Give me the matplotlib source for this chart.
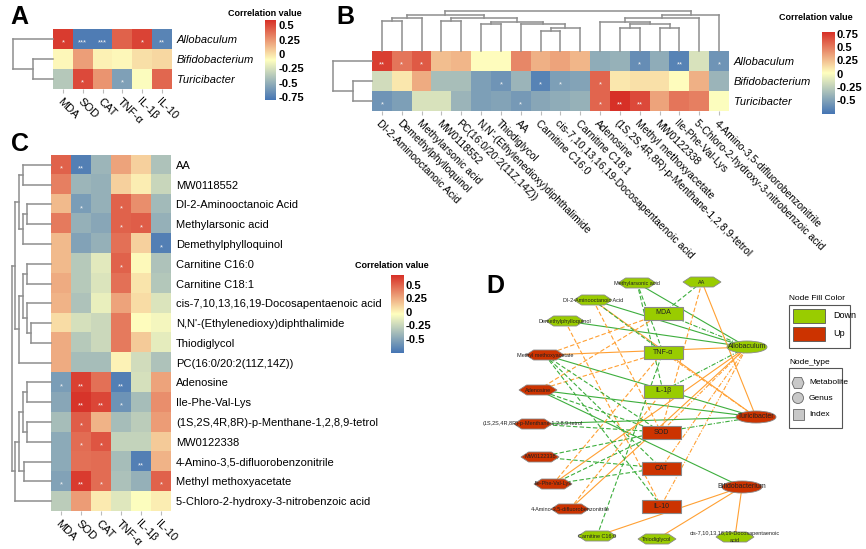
import numpy as np
import matplotlib
matplotlib.use('Agg')
import matplotlib.pyplot as plt
from matplotlib.colors import LinearSegmentedColormap
from matplotlib.patches import Polygon, Rectangle, Ellipse

plt.rcParams['font.family'] = ['Liberation Sans', 'DejaVu Sans']

# ---- data -------------------------------------------------------------
genera = ['Allobaculum', 'Bifidobacterium', 'Turicibacter']
indices = ['MDA', 'SOD', 'CAT', 'TNF-α', 'IL-1β', 'IL-10']

# panel A: genus x index
a_corr = [[0.55, -0.76, -0.76, 0.42, 0.52, -0.72],
          [-0.08, 0.22, -0.06, -0.08, 0.00, 0.03],
          [-0.38, 0.50, 0.25, -0.58, -0.12, 0.40]]
a_sig = [['*', '***', '***', '', '*', '**'],
         ['', '', '', '', '', ''],
         ['', '*', '', '*', '', '']]
a_ticks = [0.5, 0.25, 0, -0.25, -0.5, -0.75]

# panel B: genus x metabolite (column order of the clustered heatmap)
metab_b = ['Dl-2-Aminooctanoic Acid', 'Demethylphylloquinol', 'Methylarsonic acid', 'MW0118552',
           'PC(16:0/20:2(11Z,14Z))', "N,N'-(Ethylenedioxy)diphthalimide", 'Thiodiglycol', 'AA',
           'Carnitine C16:0', 'cis-7,10,13,16,19-Docosapentaenoic acid', 'Carnitine C18:1', 'Adenosine',
           '(1S,2S,4R,8R)-p-Menthane-1,2,8,9-tetrol', 'Methyl methoxyacetate', 'MW0122338',
           'Ile-Phe-Val-Lys', '5-Chloro-2-hydroxy-3-nitrobenzoic acid', '4-Amino-3,5-difluorobenzonitrile']
b_allobaculum = [0.72, 0.52, 0.62, 0.25, 0.28, 0.02, 0.02, 0.45, 0.30, 0.35, 0.28,
                 -0.45, -0.42, -0.62, -0.45, -0.68, -0.15, -0.58]
b_bifidobacterium = [-0.18, 0.10, 0.32, -0.35, -0.35, -0.52, -0.58, -0.40, -0.68, -0.52, -0.50,
                     0.58, 0.10, 0.12, 0.12, 0.02, 0.30, -0.40]
b_turicibacter = [-0.58, -0.52, -0.15, -0.15, -0.40, -0.52, -0.50, -0.55, -0.48, -0.45, -0.42,
                  0.58, 0.78, 0.68, 0.35, 0.52, 0.48, 0.00]
b_sig_allobaculum = ['**', '*', '*', '', '', '', '', '', '', '', '', '', '', '*', '', '**', '', '*']
b_sig_bifidobacterium = ['', '', '', '', '', '', '*', '', '*', '*', '', '*', '', '', '', '', '', '']
b_sig_turicibacter = ['*', '', '', '', '', '', '', '*', '', '', '', '*', '**', '**', '', '', '', '']
b_ticks = [0.75, 0.5, 0.25, 0, -0.25, -0.5]

# panel C: metabolite x index (row order of the clustered heatmap)
metab_c = ['AA', 'MW0118552', 'Dl-2-Aminooctanoic Acid', 'Methylarsonic acid', 'Demethylphylloquinol',
           'Carnitine C16:0', 'Carnitine C18:1', 'cis-7,10,13,16,19-Docosapentaenoic acid',
           "N,N'-(Ethylenedioxy)diphthalimide", 'Thiodiglycol', 'PC(16:0/20:2(11Z,14Z))', 'Adenosine',
           'Ile-Phe-Val-Lys', '(1S,2S,4R,8R)-p-Menthane-1,2,8,9-tetrol', 'MW0122338',
           '4-Amino-3,5-difluorobenzonitrile', 'Methyl methoxyacetate', '5-Chloro-2-hydroxy-3-nitrobenzoic acid']
c_corr = [[0.50, -0.70, -0.42, 0.28, 0.12, -0.35],
          [0.40, -0.42, -0.45, 0.12, 0.02, -0.25],
          [0.20, -0.55, -0.45, 0.50, 0.35, -0.40],
          [0.42, -0.45, -0.50, 0.50, 0.52, -0.45],
          [0.20, -0.52, -0.45, 0.45, 0.12, -0.70],
          [0.20, -0.32, -0.15, 0.50, -0.02, -0.35],
          [0.25, -0.32, -0.18, 0.45, 0.05, -0.33],
          [0.22, -0.35, -0.12, 0.28, 0.08, -0.18],
          [0.08, -0.20, -0.24, 0.42, -0.03, -0.08],
          [0.25, -0.32, -0.24, 0.42, 0.14, -0.14],
          [0.25, -0.38, -0.38, 0.00, -0.22, -0.35],
          [-0.55, 0.62, 0.45, -0.70, -0.20, 0.28],
          [-0.50, 0.66, 0.60, -0.60, -0.38, 0.35],
          [-0.38, 0.52, 0.22, -0.38, -0.30, 0.30],
          [-0.48, 0.47, 0.55, -0.27, -0.27, 0.14],
          [-0.48, 0.45, 0.47, -0.38, -0.70, 0.22],
          [-0.52, 0.64, 0.47, -0.36, -0.45, 0.50],
          [-0.30, 0.30, 0.03, -0.16, -0.05, 0.02]]
c_sig = [['*', '**', '', '', '', ''],
         ['', '', '', '', '', ''],
         ['', '*', '', '*', '', ''],
         ['', '', '', '*', '*', ''],
         ['', '', '', '', '', '*'],
         ['', '', '', '*', '', ''],
         ['', '', '', '', '', ''],
         ['', '', '', '', '', ''],
         ['', '', '', '', '', ''],
         ['', '', '', '', '', ''],
         ['', '', '', '', '', ''],
         ['*', '**', '', '**', '', ''],
         ['', '**', '**', '*', '', ''],
         ['', '*', '', '', '', ''],
         ['', '*', '*', '', '', ''],
         ['', '', '', '', '**', ''],
         ['*', '**', '*', '', '', '*'],
         ['', '', '', '', '', '']]
c_ticks = [0.5, 0.25, 0, -0.25, -0.5]

# dendrograms: leaf index or (left, right, merge height)
tree_a_rows = (0, (1, 2, 20), 40)
tree_b_rows = (0, (1, 2, 19), 39)
b_left_a = ((0, 1, 30), 2, 32.7)
b_left_b = ((3, 4, 30), ((5, 6, 26.7), (7, ((8, 9, 20), 10, 23.3), 26.7), 29.3), 32.7)
b_right_w = ((12, 13, 23.3), (14, 15, 23.3), 26.7)
b_right = ((((11, b_right_w, 29.3), 16, 32.7)), 17, 36)
tree_b_cols = ((b_left_a, b_left_b, 36), b_right, 40)
c_top_a = ((0, 1, 27.7), ((2, 3, 23.7), 4, 27.7), 31.7)
c_top_b = (((5, 6, 23.7), (7, (8, 9, 20), 24.3), 28.3), 10, 31.7)
c_bottom = ((((11, 12, 23.7), (13, 14, 23.7), 27.7), (15, 16, 27), 31.7), 17, 36)
tree_c_rows = ((c_top_a, c_top_b, 36), c_bottom, 39.3)

# panel D: node regulation
down_nodes = ['Methylarsonic acid', 'AA', 'Dl-2-Aminooctanoic Acid', 'Demethylphylloquinol',
              'Carnitine C16:0', 'Thiodiglycol', 'cis-7,10,13,16,19-Docosapentaenoic acid',
              'MDA', 'TNF-α', 'IL-1β', 'Allobaculum']

# network layout (pixel positions)
node_xy = {
    'Methylarsonic acid': (637, 283), 'AA': (702, 282), 'Dl-2-Aminooctanoic Acid': (593, 300),
    'Demethylphylloquinol': (565, 321), 'Methyl methoxyacetate': (545, 355), 'Adenosine': (538, 390),
    '(1S,2S,4R,8R)-p-Menthane-1,2,8,9-tetrol': (533, 424), 'MW0122338': (540, 457),
    'Ile-Phe-Val-Lys': (553, 484), '4-Amino-3,5-difluorobenzonitrile': (570, 509),
    'Carnitine C16:0': (597, 536), 'Thiodiglycol': (657, 539),
    'cis-7,10,13,16,19-Docosapentaenoic acid': (735, 537),
    'MDA': (663, 313), 'TNF-α': (663, 352), 'IL-1β': (663, 391),
    'SOD': (661, 432), 'CAT': (661, 468), 'IL-10': (661, 506),
    'Allobaculum': (747, 347), 'Turicibacter': (756, 417), 'Bifidobacterium': (742, 487),
}

# ---- figure -----------------------------------------------------------
W, H = 866, 549
fig = plt.figure(figsize=(W / 100, H / 100), dpi=100)
cmap = LinearSegmentedColormap.from_list('cor', ['#4575B4', '#FFFFBF', '#D73027'])
TREE = '#8E8E8E'


def px_axes(x0, y0, x1, y1, z=1):
    return fig.add_axes([x0 / W, 1 - y1 / H, (x1 - x0) / W, (y1 - y0) / H], zorder=z)


def heatmap(box, vals, sig, vmin, vmax, rows, cols, row_fs, col_fs, italic):
    ax = px_axes(*box)
    v = np.array(vals)
    ax.imshow(v, cmap=cmap, vmin=vmin, vmax=vmax, aspect='auto', interpolation='nearest')
    for i in range(v.shape[0]):
        for j in range(v.shape[1]):
            if sig[i][j]:
                ax.text(j, i + 0.2, sig[i][j], ha='center', va='center', color='#F4F4F4', fontsize=5.5)
    ax.yaxis.tick_right()
    ax.set_yticks(range(len(rows)))
    ax.set_yticklabels(rows, fontsize=row_fs, style='italic' if italic else 'normal')
    ax.tick_params(axis='y', length=0, pad=3.5)
    ax.set_xticks(range(len(cols)))
    ax.set_xticklabels(cols, fontsize=col_fs, rotation=-45, ha='left', va='top', rotation_mode='anchor')
    ax.tick_params(axis='x', length=3, color='#BBBBBB', pad=2)
    for s in ax.spines.values():
        s.set_visible(False)
    return ax


def colorbar(box, vmin, vmax, ticks):
    ax = px_axes(*box)
    grad = np.linspace(vmin, vmax, 256)[:, None]
    ax.imshow(grad, cmap=cmap, vmin=vmin, vmax=vmax, aspect='auto', origin='lower',
              extent=[0, 1, vmin, vmax])
    ax.set_xticks([])
    ax.yaxis.tick_right()
    ax.set_yticks(ticks)
    ax.set_yticklabels([f'{t:g}' for t in ticks], fontsize=8, fontweight='bold')
    ax.tick_params(axis='y', length=0, pad=2)
    for s in ax.spines.values():
        s.set_visible(False)


def tree_segments(tree):
    segs = []

    def rec(n):
        if isinstance(n, int):
            return float(n), 0.0
        l, r, h = n
        pl, hl = rec(l)
        pr, hr = rec(r)
        segs.append(((pl, pl), (hl, h)))
        segs.append(((pr, pr), (hr, h)))
        segs.append(((pl, pr), (h, h)))
        return (pl + pr) / 2, h

    rec(tree)
    return segs


def row_dendro(box, tree, n):
    ax = px_axes(*box)
    for pos, hgt in tree_segments(tree):
        ax.plot(hgt, pos, color=TREE, lw=1.1, solid_capstyle='projecting', clip_on=False)
    ax.set_ylim(n - 0.5, -0.5)
    ax.set_xlim(box[2] - box[0], 0)
    ax.set_axis_off()


def col_dendro(box, tree, n):
    ax = px_axes(*box)
    for pos, hgt in tree_segments(tree):
        ax.plot(pos, hgt, color=TREE, lw=1.1, solid_capstyle='projecting', clip_on=False)
    ax.set_xlim(-0.5, n - 0.5)
    ax.set_ylim(0, box[3] - box[1])
    ax.set_axis_off()


# panel A
heatmap((53, 29, 172, 89), a_corr, a_sig, -0.80, 0.59, genera, indices, 8, 8, True)
row_dendro((12, 29, 53, 89), tree_a_rows, 3)
colorbar((265, 20, 276, 100), -0.80, 0.59, a_ticks)

# panel B
b_corr = [b_allobaculum, b_bifidobacterium, b_turicibacter]
b_sig = [b_sig_allobaculum, b_sig_bifidobacterium, b_sig_turicibacter]
heatmap((372, 51, 729, 111), b_corr, b_sig, -0.76, 0.78, genera, metab_b, 8, 7.5, True)
row_dendro((331, 51, 372, 111), tree_b_rows, 3)
col_dendro((372, 9, 729, 51), tree_b_cols, 18)
colorbar((822, 32, 834, 114), -0.76, 0.78, b_ticks)

# panel C
heatmap((51, 155, 171, 511), c_corr, c_sig, -0.76, 0.68, metab_c, indices, 8, 8, False)
row_dendro((9, 155, 51, 511), tree_c_rows, 18)
colorbar((391, 275, 403, 353), -0.76, 0.68, c_ticks)

# overlay in pixel coordinates: panel letters, titles, network
ov = px_axes(0, 0, W, H, z=5)
ov.set_xlim(0, W)
ov.set_ylim(H, 0)
ov.set_axis_off()

for letter, (lx, ly) in zip('ABCD', [(10, 17), (336, 17), (11, 144), (486, 286)]):
    ov.text(lx, ly, letter, fontsize=18, fontweight='bold', ha='left', va='center')
for tx, ty in [(228, 13), (779, 17), (355, 266)]:
    ov.text(tx, ty, 'Correlation value', fontsize=6.5, fontweight='bold', ha='left', va='center')

GREEN_EDGE, ORANGE_EDGE = '#3DAE3D', '#FFA033'
edge_style = {'gm': '-', 'mi': (0, (4, 2)), 'gi': (0, (4, 1.5, 1, 1.5))}
edges = []
for i, g in enumerate(genera):
    for j, ix in enumerate(indices):
        if a_sig[i][j]:
            edges.append((g, ix, a_corr[i][j], 'gi'))
    for j, m in enumerate(metab_b):
        if b_sig[i][j]:
            edges.append((g, m, b_corr[i][j], 'gm'))
for i, m in enumerate(metab_c):
    for j, ix in enumerate(indices):
        if c_sig[i][j]:
            edges.append((m, ix, c_corr[i][j], 'mi'))

for a, b, r, kind in edges:
    (xa, ya), (xb, yb) = node_xy[a], node_xy[b]
    ov.plot([xa, xb], [ya, yb], color=GREEN_EDGE if r > 0 else ORANGE_EDGE, lw=0.8,
            ls=edge_style[kind], zorder=1)

GREEN, RED = '#99CC00', '#CC3300'


def hexagon(x, y, w, h, **kw):
    pts = [(x - w / 2, y), (x - w * 0.3, y - h / 2), (x + w * 0.3, y - h / 2),
           (x + w / 2, y), (x + w * 0.3, y + h / 2), (x - w * 0.3, y + h / 2)]
    return Polygon(pts, closed=True, **kw)


used = set(e[0] for e in edges) | set(e[1] for e in edges)
for name in used:
    x, y = node_xy[name]
    fc = GREEN if name in down_nodes else RED
    label = name
    if name in indices:
        ov.add_patch(Rectangle((x - 19.5, y - 6.5), 39, 13, fc=fc, ec='#8A8A8A', lw=0.8, zorder=3))
        fs = 5
    elif name in genera:
        ov.add_patch(Ellipse((x, y), 40, 12, fc=fc, ec='#8A8A8A', lw=0.6, zorder=3))
        fs = 5
    else:
        ov.add_patch(hexagon(x, y, 38, 10, fc=fc, ec='#8A8A8A', lw=0.6, zorder=3))
        fs = 4
        if name.startswith('cis-7'):
            label = 'cis-7,10,13,16,19-Docosapentaenoic\nacid'
    ov.text(x, y, label, fontsize=fs, ha='center', va='center', color='#222222', zorder=4,
            linespacing=1.6)

# network legend
ov.text(789, 299, 'Node Fill Color', fontsize=6, ha='left', va='center')
ov.add_patch(Rectangle((789, 305), 61, 43, fc='none', ec='#555555', lw=0.8))
ov.add_patch(Rectangle((793, 309), 32, 14, fc=GREEN, ec='#555555', lw=0.6))
ov.add_patch(Rectangle((793, 327), 32, 14, fc=RED, ec='#555555', lw=0.6))
ov.text(833, 316, 'Down', fontsize=6.5, ha='left', va='center')
ov.text(833, 334, 'Up', fontsize=6.5, ha='left', va='center')
ov.text(789, 363, 'Node_type', fontsize=6, ha='left', va='center')
ov.add_patch(Rectangle((789, 368), 53, 60, fc='none', ec='#555555', lw=0.8))
ov.add_patch(hexagon(798, 383, 12, 11, fc='#C8C8C8', ec='#666666', lw=0.6))
ov.add_patch(Ellipse((798, 398), 11, 11, fc='#C8C8C8', ec='#666666', lw=0.6))
ov.add_patch(Rectangle((793, 408.5), 11, 11, fc='#C8C8C8', ec='#666666', lw=0.6))
ov.text(809, 383, 'Metabolite', fontsize=6, ha='left', va='center')
ov.text(809, 398, 'Genus', fontsize=6, ha='left', va='center')
ov.text(809, 414, 'Index', fontsize=6, ha='left', va='center')

fig.savefig('out.png', dpi=100)
